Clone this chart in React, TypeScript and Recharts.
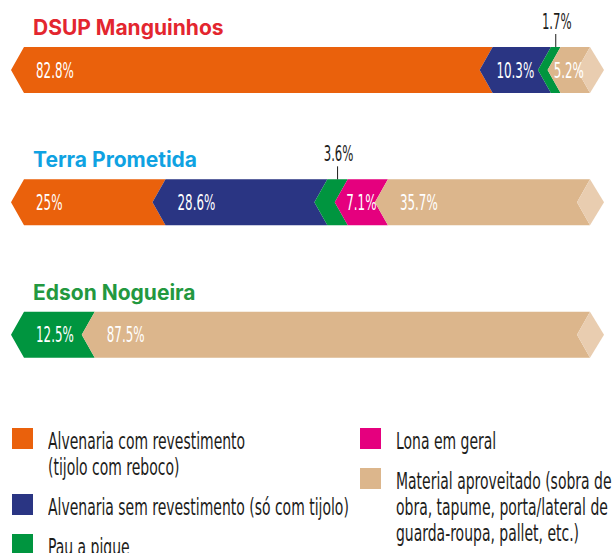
import { Bar, BarChart, LabelList, XAxis, YAxis } from 'recharts'

const locais = ['DSUP Manguinhos', 'Terra Prometida', 'Edson Nogueira']
const localColors = ['#e3262f', '#0fa2e2', '#23983f']

// % of houses by material, one value per local
const alvenariaCom = [82.8, 25, 0]
const alvenariaSem = [10.3, 28.6, 0]
const pauAPique = [1.7, 3.6, 12.5]
const lona = [0, 7.1, 0]
const aproveitado = [5.2, 35.7, 87.5]

const seriesKeys = ['alvenariaCom', 'alvenariaSem', 'pauAPique', 'lona', 'aproveitado']
const seriesColors = ['#ea610c', '#2a3583', '#00953f', '#e5007e', '#dcb68c']
const seriesLabels = [
  ['Alvenaria com revestimento', '(tijolo com reboco)'],
  ['Alvenaria sem revestimento (só com tijolo)'],
  ['Pau a pique'],
  ['Lona em geral'],
  ['Material aproveitado (sobra de', 'obra, tapume, porta/lateral de', 'guarda-roupa, pallet, etc.)'],
]
const capColor = '#e9cdb0'

const data = locais.map((name, i) => ({
  name,
  alvenariaCom: alvenariaCom[i],
  alvenariaSem: alvenariaSem[i],
  pauAPique: pauAPique[i],
  lona: lona[i],
  aproveitado: aproveitado[i],
}))

const NOTCH = 13
const LEFT = 11
const labelFont = '"DejaVu Sans Condensed", "DejaVu Sans", sans-serif'

function Chevron(props: any) {
  const { x, y, width, height, fill, cap } = props
  if (!width || width <= 0) return null
  const m = y + height / 2
  const pts = [
    [x + NOTCH, y],
    [x + width + NOTCH, y],
    [x + width, m],
    [x + width + NOTCH, y + height],
    [x + NOTCH, y + height],
    [x, m],
  ]
  const end = x + width
  const capPts = [
    [end + NOTCH, y],
    [end + NOTCH * 2 + 1, m],
    [end + NOTCH, y + height],
    [end, m],
  ]
  return (
    <g>
      <polygon points={pts.map((p) => p.join(',')).join(' ')} fill={fill} />
      {cap && <polygon points={capPts.map((p) => p.join(',')).join(' ')} fill={capColor} />}
    </g>
  )
}

function getBox(props: any) {
  return typeof props.x === 'number' ? props : props.viewBox
}

function SegLabel(props: any) {
  const { x, y, width, height } = getBox(props)
  const v = Number(props.value)
  if (!v) return null
  const m = y + height / 2
  if (v < 4) {
    const cx = x + width / 2 + NOTCH
    return (
      <g>
        <line x1={cx} x2={cx} y1={y - 13} y2={y} stroke="#1d1d1b" strokeWidth={1} />
        <text
          transform={`translate(${cx + 1},${y - 18}) scale(0.62,1)`}
          textAnchor="middle"
          fontFamily={labelFont}
          fontSize={21}
          fill="#1d1d1b"
        >
          {v}%
        </text>
      </g>
    )
  }
  const centered = v < 11
  const tx = centered ? x + width / 2 + NOTCH / 2 : x + 25
  return (
    <text
      transform={`translate(${tx},${m + 7.5}) scale(0.63,1)`}
      textAnchor={centered ? 'middle' : 'start'}
      fontFamily={labelFont}
      fontSize={21}
      fill="#ffffff"
    >
      {v}%
    </text>
  )
}

function TitleLabel(props: any) {
  const { y } = getBox(props)
  return (
    <text
      x={LEFT + 22}
      y={y - 12}
      fill={localColors[props.index]}
      fontFamily="Inter, sans-serif"
      fontWeight={700}
      fontSize={21}
    >
      {props.value}
    </text>
  )
}

function LegendItem({ i }: { i: number }) {
  return (
    <div style={{ display: 'flex', alignItems: 'flex-start', marginBottom: 14 }}>
      <div style={{ width: 21, height: 21, background: seriesColors[i], flex: 'none' }} />
      <div
        style={{
          marginLeft: 15,
          fontFamily: labelFont,
          fontSize: 23,
          lineHeight: '26px',
          color: '#1d1d1b',
          whiteSpace: 'nowrap',
          transform: 'scaleX(0.675)',
          transformOrigin: 'left top',
        }}
      >
        {seriesLabels[i].map((line) => (
          <div key={line}>{line}</div>
        ))}
      </div>
    </div>
  )
}

export default function App() {
  const last = seriesKeys.length - 1
  return (
    <div style={{ position: 'relative', width: 614, height: 553, overflow: 'hidden', background: '#fff' }}>
      <style>{'body{margin:0}'}</style>
      <BarChart
        width={614}
        height={405}
        data={data}
        layout="vertical"
        margin={{ top: 4, right: 37, bottom: 4, left: LEFT }}
      >
        <XAxis type="number" domain={[0, 100]} hide />
        <YAxis type="category" dataKey="name" hide />
        {seriesKeys.map((key, i) => (
          <Bar
            key={key}
            dataKey={key}
            stackId="casas"
            fill={seriesColors[i]}
            barSize={46}
            isAnimationActive={false}
            shape={(p: any) => <Chevron {...p} cap={i === last} />}
          >
            <LabelList dataKey={key} content={(p: any) => <SegLabel {...p} />} />
            {i === last && <LabelList dataKey="name" content={(p: any) => <TitleLabel {...p} />} />}
          </Bar>
        ))}
      </BarChart>
      <div style={{ position: 'absolute', top: 428, left: 12 }}>
        {[0, 1, 2].map((i) => (
          <LegendItem key={i} i={i} />
        ))}
      </div>
      <div style={{ position: 'absolute', top: 428, left: 360 }}>
        {[3, 4].map((i) => (
          <LegendItem key={i} i={i} />
        ))}
      </div>
    </div>
  )
}
